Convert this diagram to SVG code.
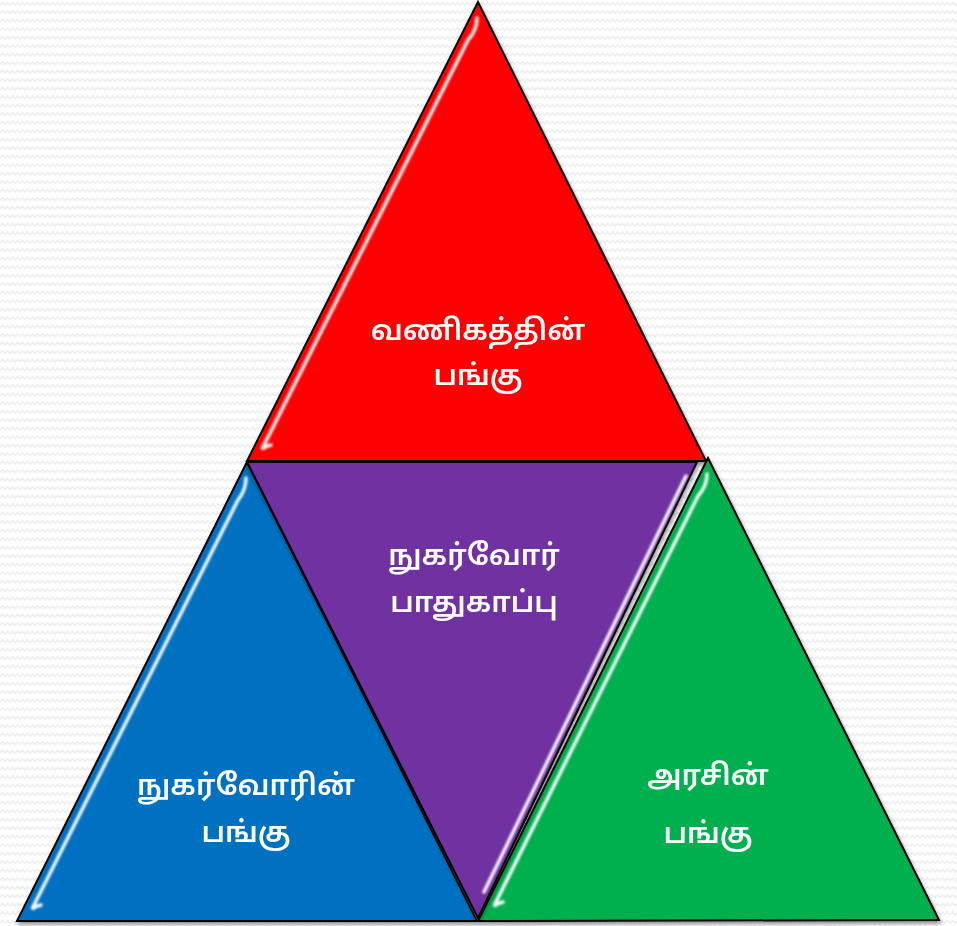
<svg xmlns="http://www.w3.org/2000/svg" width="957" height="926" viewBox="0 0 957 926">
<defs>
<pattern id="zig" width="10" height="8.5" patternUnits="userSpaceOnUse">
<rect width="10" height="8.5" fill="#ffffff"/>
<path d="M0,5 L2.5,2.5 L5,5 L7.5,2.5 L10,5" fill="none" stroke="#ececec" stroke-width="1.4"/>
</pattern>
<filter id="sh" x="-5%" y="-5%" width="110%" height="110%">
<feGaussianBlur in="SourceAlpha" stdDeviation="2"/>
<feOffset dx="1" dy="3"/>
<feComponentTransfer><feFuncA type="linear" slope="0.4"/></feComponentTransfer>
<feMerge><feMergeNode/><feMergeNode in="SourceGraphic"/></feMerge>
</filter>
<filter id="blur"><feGaussianBlur stdDeviation="1.3"/></filter>
</defs>
<style>
.tri{stroke:#000;stroke-width:2;stroke-linejoin:miter}
.hl{fill:none;stroke:#fff;stroke-width:3.5;stroke-linecap:round;opacity:0.95}
.lbl{font-family:"Noto Sans Tamil","Latha","Noto Sans",sans-serif;font-size:29px;font-weight:600;fill:#fff;text-anchor:middle}
</style>
<rect width="957" height="926" fill="url(#zig)"/>
<g id="red" filter="url(#sh)">
<polygon class="tri" points="478,2 247,461 706,461" fill="#ff0000"/>
<path class="hl" d="M477,18 Q477,30 468,40 L262,449 Q266,446 271,445" filter="url(#blur)"/>
<text class="lbl" x="478" y="340">வணிகத்தின்</text>
<text class="lbl" x="478" y="385">பங்கு</text>
</g>
<g id="blue" filter="url(#sh)">
<polygon class="tri" points="247,462 17,921 477,921" fill="#0070c0"/>
<path class="hl" d="M246,478 Q246,490 238,500 L32,909 Q36,906 41,905" stroke="#e0f6ff" filter="url(#blur)"/>
<text class="lbl" x="246" y="795">நுகர்வோரின்</text>
<text class="lbl" x="246" y="842">பங்கு</text>
</g>
<g id="green" filter="url(#sh)">
<polygon class="tri" points="708,458 478,921 939,920" fill="#00b050"/>
<path class="hl" d="M707,474 Q707,486 698,496 L494,906 Q498,903 503,902" stroke="#e6fff0" filter="url(#blur)"/>
<text class="lbl" x="708" y="785">அரசின்</text>
<text class="lbl" x="708" y="843">பங்கு</text>
</g>
<g id="purple" filter="url(#sh)">
<polygon class="tri" points="247,462 697,462 478,918" fill="#7030a0"/>
<path class="hl" d="M686,476 L484,892" stroke="#f4e8ff" filter="url(#blur)"/>
<text class="lbl" x="474" y="565">நுகர்வோர்</text>
<text class="lbl" x="474" y="612">பாதுகாப்பு</text>
</g>
</svg>
